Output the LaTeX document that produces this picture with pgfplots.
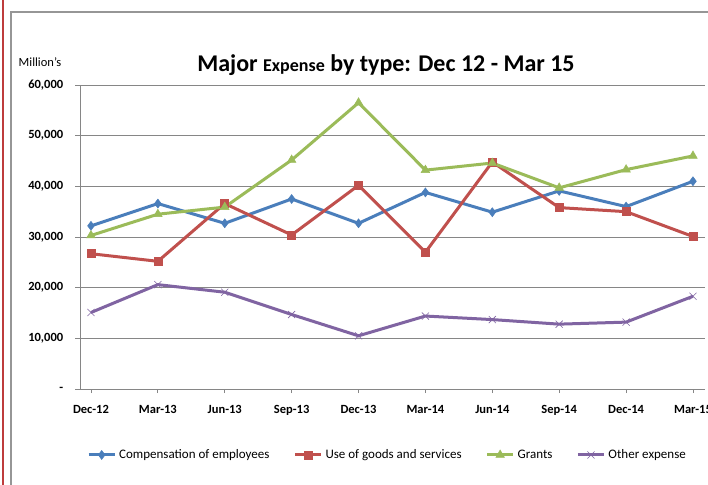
\documentclass[border=0pt]{standalone}
\usepackage{fontspec}
\setmainfont{Carlito}
\usepackage{pgfplots}
\pgfplotsset{compat=1.18}
\definecolor{cblue}{RGB}{74,126,187}
\definecolor{cred}{RGB}{192,80,77}
\definecolor{cgreen}{RGB}{155,187,89}
\definecolor{cpurple}{RGB}{128,100,162}
\definecolor{cgrid}{RGB}{134,134,134}
\definecolor{cframe}{RGB}{150,150,150}
\definecolor{cborder}{RGB}{190,60,60}
\begin{document}
\begin{tikzpicture}[x=1pt,y=1pt]
\useasboundingbox (0,0) rectangle (708,484);
\begin{scope}
\clip (0,0) rectangle (708,484);
\fill[white] (0,0) rectangle (708,484);
\draw[cborder, line width=1.2pt] (3,-5) -- (3,490);
\draw[cframe, line width=1.2pt] (11,-5) -- (11,472) -- (720,472);
\end{scope}
\begin{axis}[
  at={(80pt,95pt)}, anchor=south west,
  scale only axis, width=625pt, height=304pt,
  xmin=-0.164, xmax=9.18, ymin=0, ymax=60000,
  scaled y ticks=false,
  axis x line=bottom, axis y line=left,
  axis line style={cgrid, line width=0.9pt, -},
  xtick={0,...,9},
  xticklabels={Dec-12,Mar-13,Jun-13,Sep-13,Dec-13,Mar-14,Jun-14,Sep-14,Dec-14,Mar-15},
  ytick={0,10000,20000,30000,40000,50000,60000},
  yticklabels={{-},{10,000},{20,000},{30,000},{40,000},{50,000},{60,000}},
  tick style={cgrid, line width=0.8pt},
  xtick style={/pgfplots/major tick length=4pt},
  ytick style={/pgfplots/major tick length=5pt},
  tick align=outside,
  ymajorgrids, grid style={cgrid, line width=0.9pt},
  ticklabel style={font=\bfseries\fontsize{12.5}{14}\selectfont},
  xticklabel style={yshift=-9pt},
  yticklabel style={xshift=-9pt},
  legend style={draw=none, at={(0.492,-0.217)}, anchor=center,
    legend columns=4, font=\fontsize{13}{15}\selectfont, inner xsep=0pt,
    /tikz/every odd column/.append style={column sep=1pt},
    /tikz/every even column/.append style={column sep=22pt}},
  legend image code/.code={\draw[mark repeat=2,mark phase=2] plot coordinates {(0pt,0pt)(13pt,0pt)(26pt,0pt)};},
  clip=false,
]
\addplot[cblue, line width=3pt, mark=diamond*, mark size=4.5pt, mark options={solid, line width=0.5pt}] coordinates {
(0,32200)(1,36600)(2,32700)(3,37500)(4,32700)(5,38800)(6,34900)(7,39100)(8,36000)(9,41000)};
\addlegendentry{Compensation of employees}
\addplot[cred, line width=3pt, mark=square*, mark size=4pt, mark options={solid, line width=0.5pt}] coordinates {
(0,26700)(1,25200)(2,36600)(3,30400)(4,40200)(5,27000)(6,44800)(7,35800)(8,35000)(9,30100)};
\addlegendentry{Use of goods and services}
\addplot[cgreen, line width=3pt, mark=triangle*, mark size=5pt, mark options={solid, line width=0.5pt}] coordinates {
(0,30300)(1,34500)(2,35900)(3,45200)(4,56500)(5,43200)(6,44600)(7,39700)(8,43300)(9,46000)};
\addlegendentry{Grants}
\addplot[cpurple, line width=3pt, mark=x, mark size=5pt, mark options={solid, line width=0.6pt}] coordinates {
(0,15100)(1,20600)(2,19100)(3,14700)(4,10500)(5,14400)(6,13700)(7,12800)(8,13200)(9,18300)};
\addlegendentry{Other expense}
\end{axis}
\node[font=\bfseries\fontsize{24}{28}\selectfont, anchor=center] at (386,419)
  {Major {\fontsize{18}{20}\selectfont Expense} by type: Dec 12 - Mar 15};
\node[font=\fontsize{12.5}{14}\selectfont, anchor=center] at (40,422) {Million's};
\end{tikzpicture}
\end{document}
